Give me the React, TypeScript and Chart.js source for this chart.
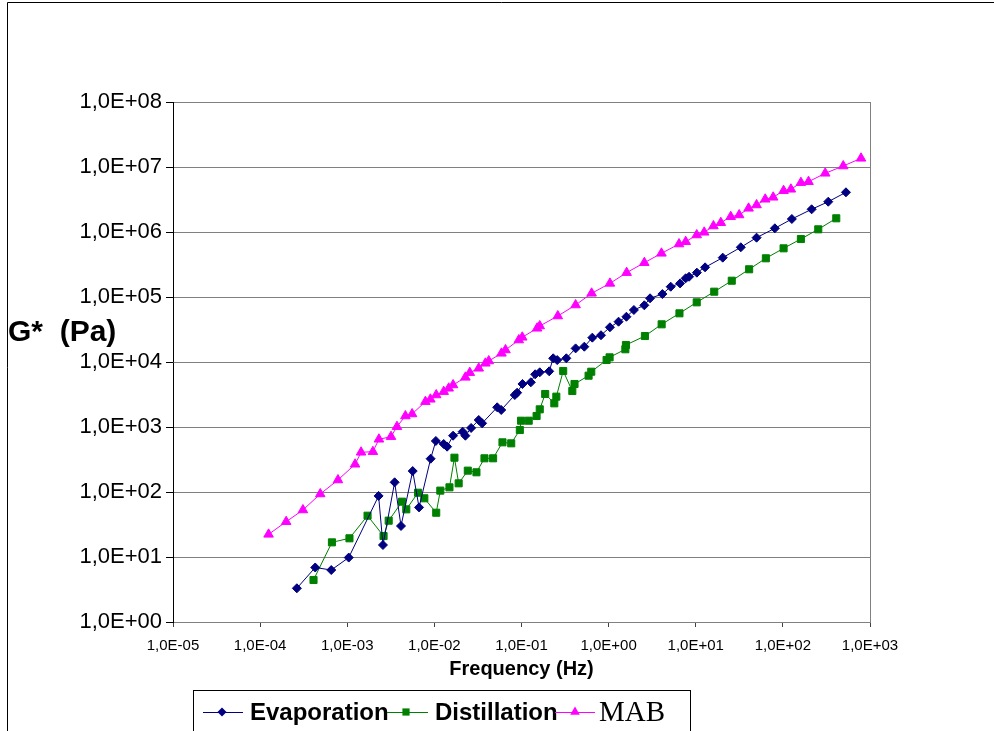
import React, { useEffect, useRef } from 'react';
import { Chart, registerables } from 'chart.js';

Chart.register(...registerables);

// ---- Axis ticks ----
const xTickValues = [1e-5, 1e-4, 1e-3, 1e-2, 1e-1, 1, 10, 100, 1000];
const xTickLabels = ['1,0E-05', '1,0E-04', '1,0E-03', '1,0E-02', '1,0E-01', '1,0E+00', '1,0E+01', '1,0E+02', '1,0E+03'];
const yTickValues = [1, 10, 100, 1e3, 1e4, 1e5, 1e6, 1e7, 1e8];
const yTickLabels = ['1,0E+00', '1,0E+01', '1,0E+02', '1,0E+03', '1,0E+04', '1,0E+05', '1,0E+06', '1,0E+07', '1,0E+08'];

const seriesNames = ['Evaporation', 'Distillation', 'MAB'];
const xTitle = 'Frequency (Hz)';
const yTitle = 'G*  (Pa)';

// ---- Evaporation ----
const evapFreq = [
  2.64e-4, 4.29e-4, 6.55e-4, 1.04e-3, 2.29e-3, 2.57e-3, 3.5e-3, 4.14e-3, 5.64e-3, 6.67e-3,
  9.06e-3, 1.04e-2, 1.28e-2, 1.4e-2, 1.64e-2, 2.11e-2, 2.27e-2, 2.64e-2, 3.23e-2, 3.53e-2,
  5.26e-2, 5.85e-2, 8.38e-2, 8.91e-2, 0.1026, 0.128, 0.1435, 0.162, 0.208, 0.231,
  0.257, 0.327, 0.418, 0.526, 0.65, 0.817, 1.035, 1.3, 1.6, 1.95,
  2.57, 2.99, 4.14, 5.16, 6.61, 7.67, 8.38, 10.3, 12.8, 20.4,
  32.9, 49.9, 80.9, 126.8, 213.8, 331.9, 529.7,
];
const evapG = [
  3.3, 6.9, 6.3, 9.8, 87, 15.3, 141, 30, 210, 58,
  325, 609, 548, 498, 735, 847, 735, 966, 1282, 1140,
  2010, 1827, 3106, 3370, 4590, 4870, 6470, 6940, 7190, 11400,
  10700, 11400, 16200, 17200, 23700, 25800, 34200, 41700, 49700, 63100,
  74500, 95500, 111000, 144000, 162000, 194000, 205000, 237000, 286000, 403000,
  582000, 818000, 1140000, 1585000, 2236000, 2925000, 4080000,
];

// ---- Distillation ----
const distFreq = [
  4.1e-4, 6.67e-4, 1.06e-3, 1.71e-3, 2.61e-3, 2.99e-3, 4.26e-3, 4.76e-3, 6.5e-3, 7.67e-3,
  1.05e-2, 1.17e-2, 1.49e-2, 1.7e-2, 1.9e-2, 2.42e-2, 3.04e-2, 3.76e-2, 4.72e-2, 6.05e-2,
  7.62e-2, 9.57e-2, 9.89e-2, 0.121, 0.149, 0.162, 0.187, 0.238, 0.251, 0.301,
  0.383, 0.406, 0.589, 0.632, 0.948, 1.026, 1.556, 1.58, 2.61, 4.06,
  6.5, 10.26, 16.3, 25.9, 41.0, 63.8, 101.9, 161, 254.7, 410,
];
const distG = [
  4.43, 16.8, 19.4, 43.2, 21, 36.2, 71, 54.1, 97.5, 80,
  48, 105, 118, 337, 136, 213, 201, 330, 330, 581,
  561, 899, 1250, 1250, 1477, 1870, 3220, 2313, 2930, 7270,
  3580, 4590, 6160, 7090, 10740, 11800, 15700, 18260, 25100, 38000,
  56100, 82800, 120700, 178000, 267000, 394000, 561000, 780000, 1100000, 1625000,
];

// ---- MAB ----
const mabFreq = [
  1.25e-4, 1.99e-4, 3.1e-4, 4.9e-4, 7.82e-4, 1.23e-3, 1.44e-3, 1.97e-3, 2.31e-3, 3.18e-3,
  3.72e-3, 4.65e-3, 5.55e-3, 7.89e-3, 9.0e-3, 1.05e-2, 1.28e-2, 1.46e-2, 1.64e-2, 2.27e-2,
  2.55e-2, 3.23e-2, 3.85e-2, 4.21e-2, 5.89e-2, 6.55e-2, 9.31e-2, 0.102, 0.151, 0.162,
  0.261, 0.418, 0.638, 1.035, 1.61, 2.57, 4.04, 6.43, 7.67, 10.26,
  12.5, 15.96, 19.4, 25.2, 31.5, 40.4, 49.9, 62.7, 77.4, 101.9,
  123.6, 161, 197, 306, 493, 789,
];
const mabG = [
  22.3, 34.9, 52.9, 93.2, 153, 267, 408, 417, 647, 710,
  1012, 1477, 1585, 2453, 2668, 3106, 3500, 3940, 4430, 5810,
  6850, 8000, 9550, 10360, 13600, 15300, 21800, 24000, 33000, 35800,
  51000, 75300, 114000, 162000, 237000, 337000, 470000, 653000, 709000, 899000,
  989000, 1237000, 1390000, 1720000, 1828000, 2313000, 2603000, 3187000, 3420000, 4320000,
  4540000, 5740000, 5940000, 8000000, 10360000, 13600000,
];

const colors = ['#000080', '#008000', '#FF00FF'];

const toPoints = (xs: number[], ys: number[]) => xs.map((x, i) => ({ x, y: ys[i] }));

const labelFor = (values: number[], labels: string[], v: number) => {
  const i = values.findIndex((t) => Math.abs(Math.log10(t) - Math.log10(v)) < 1e-6);
  return i >= 0 ? labels[i] : '';
};

function drawMarker(ctx: CanvasRenderingContext2D, kind: number, x: number, y: number, color: string) {
  ctx.save();
  ctx.fillStyle = color;
  ctx.beginPath();
  if (kind === 0) {
    const r = 4.5;
    ctx.moveTo(x, y - r);
    ctx.lineTo(x + r, y);
    ctx.lineTo(x, y + r);
    ctx.lineTo(x - r, y);
  } else if (kind === 1) {
    const s = 3.6;
    ctx.rect(x - s, y - s, 2 * s, 2 * s);
  } else {
    const r = 5.5;
    ctx.moveTo(x, y - r);
    ctx.lineTo(x + r * 0.866, y + r / 2);
    ctx.lineTo(x - r * 0.866, y + r / 2);
  }
  ctx.closePath();
  ctx.fill();
  ctx.restore();
}

const decorPlugin = {
  id: 'decor',
  beforeDraw(chart: any) {
    const { ctx, width, height } = chart;
    ctx.save();
    ctx.fillStyle = '#ffffff';
    ctx.fillRect(0, 0, width, height);
    ctx.strokeStyle = '#000000';
    ctx.lineWidth = 1;
    ctx.beginPath();
    ctx.moveTo(7.5, height + 5);
    ctx.lineTo(7.5, 2.5);
    ctx.lineTo(width + 5, 2.5);
    ctx.stroke();
    ctx.restore();
  },
  beforeDatasetsDraw(chart: any) {
    const { ctx, chartArea } = chart;
    ctx.save();
    ctx.strokeStyle = '#808080';
    ctx.lineWidth = 1;
    ctx.beginPath();
    const xr = Math.round(chartArea.right) + 0.5;
    ctx.moveTo(xr, chartArea.top);
    ctx.lineTo(xr, chartArea.bottom);
    ctx.stroke();
    ctx.restore();
  },
  afterDraw(chart: any) {
    const { ctx, chartArea } = chart;
    ctx.save();
    ctx.fillStyle = '#000000';
    ctx.textBaseline = 'middle';

    // Y title (horizontal)
    ctx.font = 'bold 30px "Liberation Sans", Arial, sans-serif';
    ctx.textAlign = 'left';
    ctx.fillText(yTitle, 8, 333);

    // X title
    ctx.font = 'bold 20px "Liberation Sans", Arial, sans-serif';
    ctx.textAlign = 'center';
    ctx.fillText(xTitle, (chartArea.left + chartArea.right) / 2, 669);

    // Legend box
    ctx.strokeStyle = '#000000';
    ctx.lineWidth = 1;
    ctx.strokeRect(193.5, 690.5, 497, 60);

    const ly = 712;
    const entries = [
      { lx0: 203, lx1: 243, mx: 222, tx: 250, font: 'bold 24px "Liberation Sans", Arial, sans-serif' },
      { lx0: 387, lx1: 428, mx: 406, tx: 435, font: 'bold 24px "Liberation Sans", Arial, sans-serif' },
      { lx0: 555, lx1: 595, mx: 575, tx: 599, font: '29px "Liberation Serif", "Times New Roman", serif' },
    ];
    entries.forEach((e, i) => {
      ctx.strokeStyle = colors[i];
      ctx.lineWidth = 1;
      ctx.beginPath();
      ctx.moveTo(e.lx0, ly + 0.5);
      ctx.lineTo(e.lx1, ly + 0.5);
      ctx.stroke();
      drawMarker(ctx, i, e.mx, ly, colors[i]);
      ctx.fillStyle = '#000000';
      ctx.font = e.font;
      ctx.textAlign = 'left';
      ctx.fillText(seriesNames[i], e.tx, ly + 1);
    });
    ctx.restore();
  },
};

export default function App() {
  const ref = useRef<HTMLCanvasElement | null>(null);

  useEffect(() => {
    if (!ref.current) return;
    const chart = new Chart(ref.current, {
      type: 'line',
      data: {
        datasets: [
          {
            label: seriesNames[0],
            data: toPoints(evapFreq, evapG),
            borderColor: colors[0],
            backgroundColor: colors[0],
            pointBackgroundColor: colors[0],
            pointBorderColor: colors[0],
            pointStyle: 'rectRot',
            pointRadius: 4.5,
            pointBorderWidth: 1,
            borderWidth: 1,
            tension: 0,
            fill: false,
          },
          {
            label: seriesNames[1],
            data: toPoints(distFreq, distG),
            borderColor: colors[1],
            backgroundColor: colors[1],
            pointBackgroundColor: colors[1],
            pointBorderColor: colors[1],
            pointStyle: 'rect',
            pointRadius: 5,
            pointBorderWidth: 1,
            borderWidth: 1,
            tension: 0,
            fill: false,
          },
          {
            label: seriesNames[2],
            data: toPoints(mabFreq, mabG),
            borderColor: colors[2],
            backgroundColor: colors[2],
            pointBackgroundColor: colors[2],
            pointBorderColor: colors[2],
            pointStyle: 'triangle',
            pointRadius: 5.5,
            pointBorderWidth: 1,
            borderWidth: 1,
            tension: 0,
            fill: false,
          },
        ],
      },
      options: {
        animation: false,
        responsive: false,
        maintainAspectRatio: false,
        events: [],
        layout: { padding: { top: 102, right: 124, left: 0, bottom: 0 } },
        plugins: {
          legend: { display: false },
          tooltip: { enabled: false },
          title: { display: false },
        },
        scales: {
          x: {
            type: 'logarithmic',
            position: 'bottom',
            min: 1e-5,
            max: 1e3,
            afterBuildTicks: (scale: any) => {
              scale.ticks = xTickValues.map((v) => ({ value: v }));
            },
            afterFit: (scale: any) => {
              scale.height = 109;
            },
            grid: {
              drawOnChartArea: false,
              drawTicks: true,
              tickLength: 5,
              tickColor: '#404040',
            },
            border: { display: true, color: '#808080', width: 1 },
            ticks: {
              autoSkip: false,
              maxRotation: 0,
              minRotation: 0,
              padding: 10,
              color: '#000000',
              font: { family: '"Liberation Sans", Arial, sans-serif', size: 15 },
              callback: (v: any) => labelFor(xTickValues, xTickLabels, Number(v)),
            },
          },
          y: {
            type: 'logarithmic',
            min: 1,
            max: 1e8,
            afterBuildTicks: (scale: any) => {
              scale.ticks = yTickValues.map((v) => ({ value: v }));
            },
            afterFit: (scale: any) => {
              scale.width = 173;
            },
            grid: {
              color: '#808080',
              lineWidth: 1,
              drawTicks: true,
              tickLength: 7,
              tickColor: '#000000',
            },
            border: { display: true, color: '#000000', width: 1 },
            ticks: {
              autoSkip: false,
              padding: 4,
              color: '#000000',
              font: { family: '"Liberation Sans", Arial, sans-serif', size: 22 },
              callback: (v: any) => labelFor(yTickValues, yTickLabels, Number(v)),
            },
          },
        },
      },
      plugins: [decorPlugin],
    } as any);
    return () => chart.destroy();
  }, []);

  return (
    <div style={{ position: 'absolute', left: 0, top: 0, width: 994, height: 731, background: '#fff' }}>
      <canvas ref={ref} width={994} height={731} style={{ display: 'block', width: 994, height: 731 }} />
    </div>
  );
}
